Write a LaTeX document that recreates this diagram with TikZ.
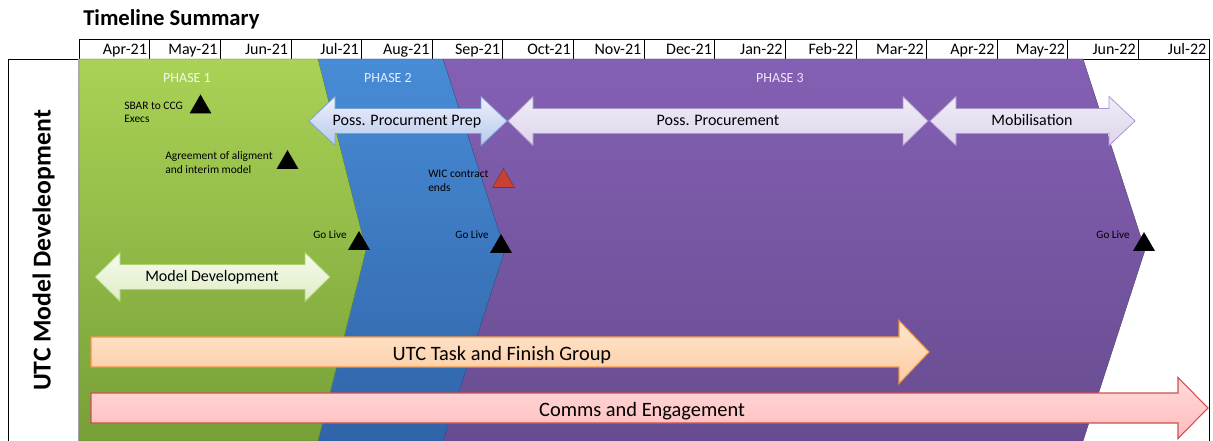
\documentclass[tikz,border=0pt]{standalone}
\usepackage{fontspec}
\setmainfont{Carlito}
\usepackage{tikz}
\usetikzlibrary{shapes.geometric, positioning}
\usepackage{xcolor}
\definecolor{phgreentop}{RGB}{170,210,86}
\definecolor{phgreenbot}{RGB}{118,160,56}
\definecolor{phbluetop}{RGB}{72,140,214}
\definecolor{phbluebot}{RGB}{48,100,168}
\definecolor{phpurpletop}{RGB}{132,96,180}
\definecolor{phpurplebot}{RGB}{104,76,144}
\definecolor{prepline}{RGB}{120,160,215}
\definecolor{lavline}{RGB}{170,150,205}
\definecolor{mdline}{RGB}{175,210,110}
\definecolor{taskline}{RGB}{240,150,70}
\definecolor{tasktop}{RGB}{255,230,205}
\definecolor{taskbot}{RGB}{252,204,162}
\definecolor{commsline}{RGB}{205,80,80}
\definecolor{commstop}{RGB}{255,218,218}
\definecolor{commsbot}{RGB}{255,188,188}
\definecolor{wicred}{RGB}{200,65,50}

% double arrow: style, left tip, right tip, centre y, head length
\newcommand{\dblarrow}[5]{%
  \draw[#1] (#2,#4) -- ++(#5,-24.5) -- ++(0,12) -- ({#3-#5},{#4-12.5}) -- ++(0,-12)
    -- (#3,#4) -- ({#3-#5},{#4+24.5}) -- ++(0,-12) -- ({#2+#5},{#4+12.5}) -- ++(0,12) -- cycle;}
% single arrow: style, left end, tip, centre y, head length, head half height
\newcommand{\sglarrow}[6]{%
  \draw[#1] (#2,{#4-15}) -- ({#3-#5},{#4-15}) -- ({#3-#5},{#4-#6}) -- (#3,#4)
    -- ({#3-#5},{#4+#6}) -- ({#3-#5},{#4+15}) -- (#2,{#4+15}) -- cycle;}

\begin{document}
\begin{tikzpicture}[x=0.75pt, y=-0.75pt,
  monthlbl/.style={anchor=base east, inner sep=0pt, font=\fontsize{12}{14}\selectfont},
  phaselbl/.style={anchor=base, inner sep=0pt, text=white, text opacity=0.85, font=\fontsize{10.5}{12}\selectfont},
  arrowlbl/.style={anchor=base, inner sep=0pt, font=\fontsize{12}{14}\selectfont},
  biglbl/.style={anchor=base, inner sep=0pt, font=\fontsize{15.3}{18}\selectfont},
  note/.style={anchor=base west, inner sep=0pt, align=left, font=\fontsize{8.6}{10.3}\selectfont},
  golive/.style={anchor=base east, inner sep=0pt, font=\fontsize{8.4}{10}\selectfont},
  milestone/.style={regular polygon, regular polygon sides=3, minimum size=19pt,
    inner sep=0pt, outer sep=0pt, anchor=south, fill=black}]
  \useasboundingbox (0,0) rectangle (1213,441);
  \clip (0,0) rectangle (1213,441);

  % Title and month header
  \node[anchor=base west, inner sep=0pt, font=\bfseries\fontsize{17}{20}\selectfont] (title) at (83,26) {Timeline Summary};
  \foreach \mon [count=\i from 0] in {Apr-21,May-21,Jun-21,Jul-21,Aug-21,Sep-21,Oct-21,Nov-21,
      Dec-21,Jan-22,Feb-22,Mar-22,Apr-22,May-22,Jun-22,Jul-22} {
    \draw (79+70.625*\i,39) rectangle ++(70.625,20);
    \node[monthlbl] (mon\i) at ({79+70.625*(\i+1)-2.5},55) {\mon};
  }

  % Frame
  \draw (8,460) -- (8,59) -- (1209,59) -- (1209,460);

  % Phases (chevrons, back to front)
  \draw[top color=phpurpletop, bottom color=phpurplebot, draw=phpurplebot!80!black, line width=0.3pt]
    (443,59) -- (1083,59) -- (1145,250) -- (1083,441) -- (443,441) -- cycle;
  \draw[top color=phbluetop, bottom color=phbluebot, draw=phbluebot!80!black, line width=0.3pt]
    (318,59) -- (443,59) -- (505,250) -- (443,441) -- (318,441) -- cycle;
  \draw[top color=phgreentop, bottom color=phgreenbot, draw=phgreenbot!80!black, line width=0.3pt]
    (79,59) -- (318,59) -- (366,250) -- (318,441) -- (79,441) -- cycle;
  \draw[gray!70, line width=0.8pt] (78.5,59) -- (78.5,441);

  \node[phaselbl] (ph1) at (187,83) {PHASE 1};
  \node[phaselbl] (ph2) at (388,83) {PHASE 2};
  \node[phaselbl] (ph3) at (780,83) {PHASE 3};

  % Activity arrows
  \dblarrow{top color=blue!6, bottom color=prepline!55, draw=prepline, line width=0.6pt}{309}{507}{121}{26}
  \node[arrowlbl] (prep) at (407,125.5) {Poss. Procurment Prep};
  \dblarrow{top color=lavline!18, bottom color=lavline!40, draw=lavline, line width=0.6pt}{508}{928}{121}{25}
  \node[arrowlbl] (proc) at (718,125.5) {Poss. Procurement};
  \dblarrow{top color=lavline!18, bottom color=lavline!40, draw=lavline, line width=0.6pt}{930}{1135}{121}{26}
  \node[arrowlbl] (mob) at (1032,125.5) {Mobilisation};
  \dblarrow{top color=mdline!12, bottom color=mdline!40, draw=mdline, line width=0.6pt}{95}{330}{277}{25}
  \node[arrowlbl] (mdev) at (212,282) {Model Development};

  \sglarrow{top color=tasktop, bottom color=taskbot, draw=taskline, line width=0.8pt}{91}{929}{352}{30}{31.5}
  \node[biglbl] (task) at (502,360) {UTC Task and Finish Group};
  \sglarrow{top color=commstop, bottom color=commsbot, draw=commsline, line width=0.8pt}{91}{1208}{408}{30}{30.5}
  \node[biglbl] (comms) at (642,416) {Comms and Engagement};

  % Milestones
  \node[milestone] (sbar) at (200.5,113.5) {};
  \node[note] (sbarlbl) at (124,123) {SBAR to CCG\\Execs};
  \node[milestone] (agree) at (287.5,169) {};
  \node[note] (agreelbl) at (165,173.5) {Agreement of aligment\\and interim model};
  \node[milestone, fill=wicred, draw=wicred!70!black, line width=0.4pt] (wic) at (503.5,187.5) {};
  \node[note] (wiclbl) at (428,191.5) {WIC contract\\ends};
  \node[milestone] (live1) at (359,250) {};
  \node[golive] (live1lbl) at (347,239) {Go Live};
  \node[milestone] (live2) at (501,253) {};
  \node[golive] (live2lbl) at (489,239) {Go Live};
  \node[milestone] (live3) at (1144,251) {};
  \node[golive] (live3lbl) at (1130,239) {Go Live};

  % Row title
  \node[rotate=90, anchor=base, inner sep=0pt, font=\bfseries\fontsize{19.3}{22}\selectfont] (rowttl) at (50.5,250.5) {UTC Model Develeopment};
\end{tikzpicture}
\end{document}
